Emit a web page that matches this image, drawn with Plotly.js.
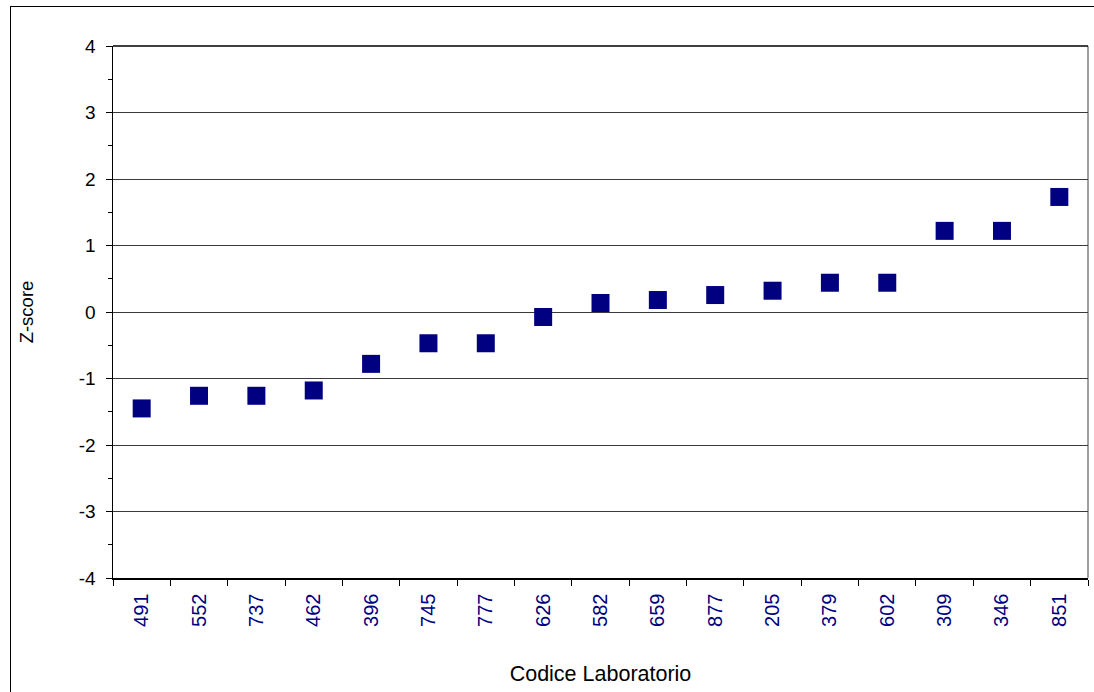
<!DOCTYPE html>
<html>
<head>
<meta charset="utf-8">
<script src="https://cdn.plot.ly/plotly-3.0.1.min.js"></script>
<style>
  html, body { margin: 0; padding: 0; background: #fff; }
  #wrap { position: relative; width: 1094px; height: 692px; overflow: hidden; }
  #frame { position: absolute; left: 10px; top: 6px; width: 1200px; height: 800px;
           border-left: 1.5px solid #000; border-top: 1.5px solid #000; pointer-events: none; z-index: 5; }
  #chart { position: absolute; left: 0; top: 0; width: 1094px; height: 692px; }
</style>
</head>
<body>
<div id="wrap">
  <div id="chart"></div>
  <div id="frame"></div>
</div>
<script>
const labCodes = ["491","552","737","462","396","745","777","626","582","659","877","205","379","602","309","346","851"];
const zScores = [-1.45, -1.26, -1.26, -1.18, -0.78, -0.47, -0.47, -0.075, 0.135, 0.18, 0.255, 0.32, 0.44, 0.44, 1.22, 1.22, 1.73];
const yTickVals = [-4, -3, -2, -1, 0, 1, 2, 3, 4];
const yTickText = ["-4", "-3", "-2", "-1", "0", "1", "2", "3", "4"];

const font = '"Liberation Sans", Arial, sans-serif';

const trace = {
  type: 'scatter',
  mode: 'markers',
  x: labCodes,
  y: zScores,
  marker: { symbol: 'square', size: 18, color: '#000080', line: { width: 0 } },
  hoverinfo: 'x+y'
};

const layout = {
  width: 1094,
  height: 692,
  margin: { l: 113, r: 6, t: 46, b: 114 },
  paper_bgcolor: 'rgba(0,0,0,0)',
  plot_bgcolor: '#ffffff',
  showlegend: false,
  font: { family: font, color: '#000' },
  xaxis: {
    type: 'category',
    categoryorder: 'array',
    categoryarray: labCodes,
    range: [-0.5, labCodes.length - 0.5],
    tickson: 'boundaries',
    ticks: 'outside',
    ticklen: 6,
    tickwidth: 1,
    tickcolor: '#000',
    tickangle: -90,
    tickfont: { family: font, size: 20, color: '#000080' },
    ticklabelstandoff: 6,
    showline: true,
    linecolor: '#000',
    linewidth: 1.5,
    showgrid: false,
    zeroline: false,
    title: { text: 'Codice Laboratorio', font: { family: font, size: 21.5, color: '#000' }, standoff: 40 },
    automargin: false
  },
  yaxis: {
    range: [-4, 4],
    tickmode: 'array',
    tickvals: yTickVals,
    ticktext: yTickText,
    ticks: 'outside',
    ticklen: 6,
    tickwidth: 1,
    tickcolor: '#000',
    tickfont: { family: font, size: 19, color: '#000' },
    ticklabelstandoff: 6,
    minor: { dtick: 0.5, ticks: 'outside', ticklen: 4, tickcolor: '#000', showgrid: false },
    showline: true,
    linecolor: '#000',
    linewidth: 1.5,
    showgrid: true,
    gridcolor: '#3a3a3a',
    gridwidth: 1,
    zeroline: false,
    title: { text: 'Z-score', font: { family: font, size: 18.5, color: '#000' }, standoff: 40 },
    automargin: false
  },
  shapes: [
    { type: 'line', xref: 'paper', yref: 'paper', x0: 1, x1: 1, y0: 0, y1: 1,
      line: { color: '#808080', width: 1.5 }, layer: 'below' },
    { type: 'line', xref: 'paper', yref: 'paper', x0: 0, x1: 1, y0: 1, y1: 1,
      line: { color: '#000', width: 1.5 }, layer: 'below' }
  ]
};

Plotly.newPlot('chart', [trace], layout, { displayModeBar: false, staticPlot: true });
</script>
</body>
</html>
